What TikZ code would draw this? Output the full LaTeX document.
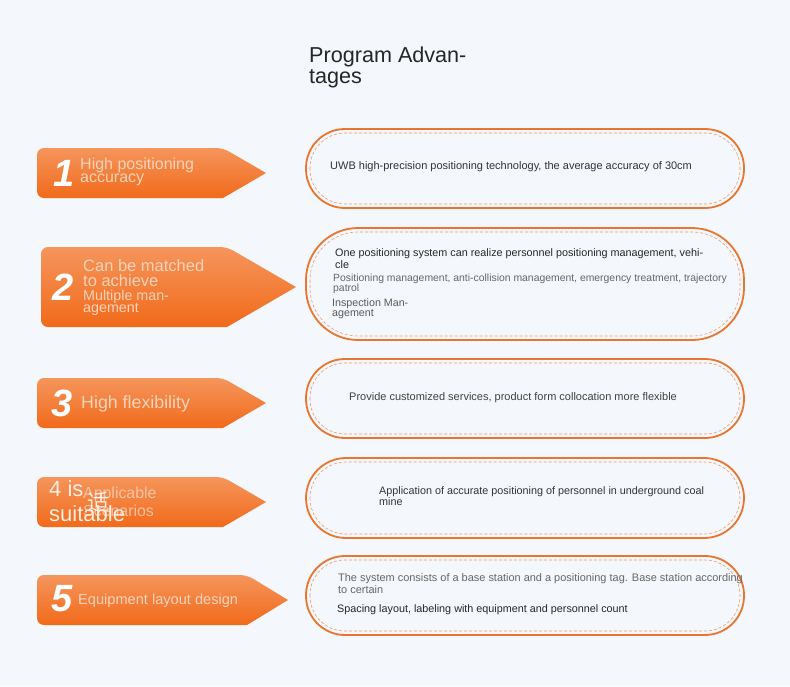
\documentclass[tikz,border=0pt]{standalone}
\usepackage{fontspec}
\setmainfont{Liberation Sans}
\newfontfamily\cjk{Noto Sans CJK SC}

\definecolor{bg}{HTML}{F4F7FB}
\definecolor{ortop}{HTML}{F5955C}
\definecolor{orbot}{HTML}{F16A1A}
\definecolor{orline}{HTML}{E9752E}
\definecolor{ordash}{HTML}{EE9C68}
\definecolor{peach}{HTML}{FBD3BA}
\definecolor{ink}{HTML}{333333}
\definecolor{inkgray}{HTML}{666666}
\newcommand\fs[2]{\fontsize{#1}{#2}\selectfont}

\begin{document}
\begin{tikzpicture}[x=1pt,y=-1pt,
    arrowbox/.style={top color=ortop,bottom color=orbot,draw=none},
    pillout/.style={draw=orline,line width=1.8pt},
    pilldash/.style={draw=ordash,line width=0.6pt,dash pattern=on 3pt off 2pt},
    num/.style={text=white,font=\bfseries\itshape\fs{38}{38},inner sep=0pt},
    lab/.style={text=peach,anchor=north west,align=left,inner sep=0pt},
    txt/.style={text=ink,anchor=north west,align=left,inner sep=0pt}
  ]
  \fill[bg] (0,0) rectangle (790,686);
  \useasboundingbox (0,0) rectangle (790,686);

  % title
  \node[txt,text=black!85,font=\fs{21.6}{21}] (title) at (309,46.5) {Program Advan-\\tages};

  % arrows on the left: left/top/bottom/shoulder/tip
  \foreach \l/\t/\b/\s/\p in {37/148/198/223/266, 41/247/327/227/296,
      37/378/428/223/266, 37/477/527/223/266, 37/575/625/247/288}
    \shade[arrowbox] (\p,{(\t+\b)/2}) -- (\s,\b) [rounded corners=7pt]
      -- (\l,\b) -- (\l,\t) -- (\s,\t) [sharp corners] -- cycle;

  % pills on the right: top/bottom/radius
  \foreach \t/\b/\r in {129/208/39, 228/340/52, 359/438/39, 458/538/40, 556/635/39} {
    \draw[pillout,rounded corners=\r pt] (306,\t) rectangle (744,\b);
    \draw[pilldash,rounded corners={(\r-4)*1pt}] (310,{\t+4}) rectangle (740,{\b-4});
  }

  % numbers
  \node[num] (n1) at (64,173) {1};
  \node[num] (n2) at (63,287) {2};
  \node[num] (n3) at (62,403) {3};
  \node[num] (n5) at (62,599) {5};

  % labels
  \node[lab,font=\fs{16}{13.4}] (l1) at (80,157.6) {High positioning\\accuracy};
  \node[lab,font=\fs{16.5}{15}] (l2a) at (83,259) {Can be matched\\to achieve};
  \node[lab,font=\fs{14.3}{12.7}] (l2b) at (83,289.6) {Multiple man-\\agement};
  \node[lab,font=\fs{17.8}{18}] (l3) at (81,395) {High flexibility};
  \node[lab,font=\fs{15.9}{17.7},opacity=0.8] (l4b) at (83,486.7) {Applicable\\Scenarios};
  \node[lab,text=white,font=\cjk\fs{22}{22},opacity=0.85,anchor=center] (l4c) at (98,502) {适};
  \node[lab,text=white!60!peach,font=\fs{22}{24.3}] (l4a) at (49,480.7) {4 is\\suitable};
  \node[lab,font=\fs{14.6}{15}] (l5) at (78,593.6) {Equipment layout design};

  % pill texts
  \node[txt,font=\fs{11}{12}] (p1) at (330,161.3)
    {UWB high-precision positioning technology, the average accuracy of 30cm};
  \node[txt,text=black!85,font=\fs{10.8}{12.3}] (p2a) at (335,248.1)
    {One positioning system can realize personnel positioning management, vehi-\\cle};
  \node[txt,text=inkgray,font=\fs{10.4}{10.7}] (p2b) at (333,273.4)
    {Positioning management, anti-collision management, emergency treatment, trajectory\\patrol};
  \node[txt,text=black!65,font=\fs{10.7}{10}] (p2c) at (332,298.2) {Inspection Man-\\agement};
  \node[txt,text=black!75,font=\fs{11}{12}] (p3) at (349,392)
    {Provide customized services, product form collocation more flexible};
  \node[txt,font=\fs{10.8}{10.7}] (p4) at (379,486.4)
    {Application of accurate positioning of personnel in underground coal\\mine};
  \node[txt,text=inkgray,font=\fs{10.95}{11.7}] (p5a) at (338,573.7)
    {The system consists of a base station and a positioning tag. Base station according\\to certain};
  \node[txt,text=black!85,font=\fs{10.8}{12}] (p5b) at (337,604.8)
    {Spacing layout, labeling with equipment and personnel count};
\end{tikzpicture}
\end{document}
